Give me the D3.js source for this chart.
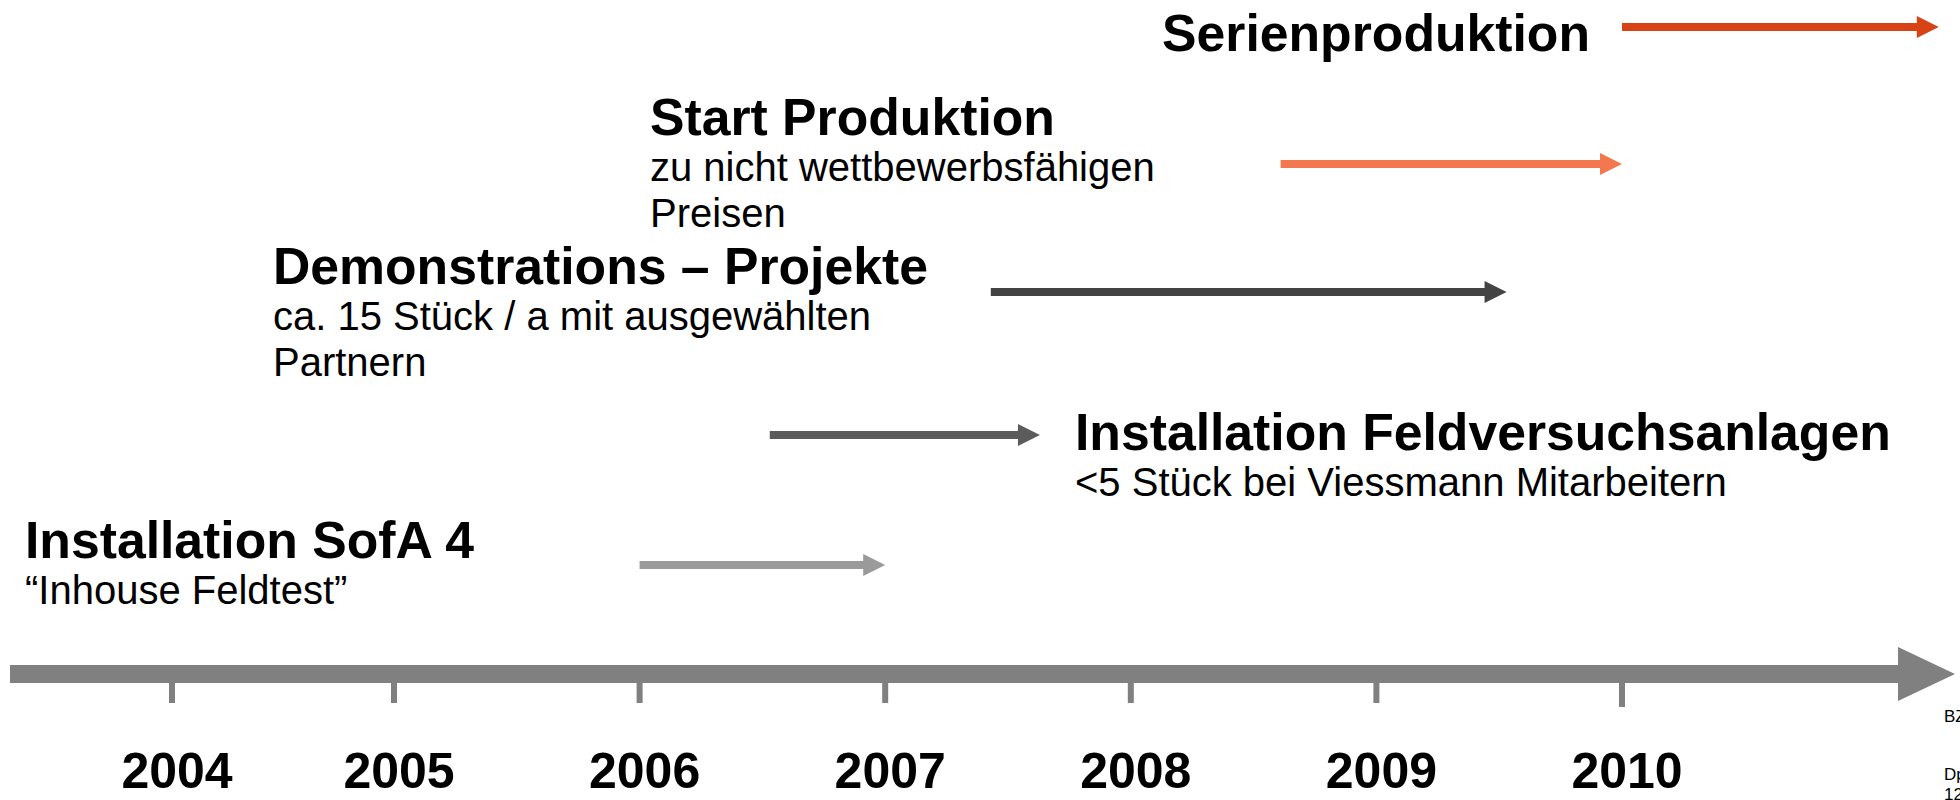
<!DOCTYPE html>
<html>
<head>
<meta charset="utf-8">
<script src="https://cdn.jsdelivr.net/npm/d3@7"></script>
<style>
  body { margin: 0; background: #fff; }
  svg { display: block; }
  text { font-family: "Liberation Sans", Arial, Helvetica, sans-serif; fill: #000; }
</style>
</head>
<body>
<svg id="chart" width="1960" height="800"></svg>
<script>
// ---- data
var years = [2004, 2005, 2006, 2007, 2008, 2009, 2010];
var phaseTitles = [
  "Serienproduktion",
  "Start Produktion",
  "Demonstrations \u2013 Projekte",
  "Installation Feldversuchsanlagen",
  "Installation SofA 4"
];
var phaseNotes = [
  [],
  ["zu nicht wettbewerbsf\u00e4higen", "Preisen"],
  ["ca. 15 St\u00fcck / a mit ausgew\u00e4hlten", "Partnern"],
  ["<5 St\u00fcck bei Viessmann Mitarbeitern"],
  ["\u201cInhouse Feldtest\u201d"]
];
var phaseStart = [2010.0, 2008.61, 2007.43, 2006.53, 2006.0];
var phaseEnd   = [2011.29, 2010.0, 2009.53, 2007.63, 2007.0];
var sideNotes  = ["BZ", "Dp", "12"];

// ---- styles / layout (kept apart from the values)
var phaseColors = ["#d84315", "#f4784f", "#434343", "#5b5b5b", "#9a9a9a"];
var rowLayout = [
  { arrowY: 27,  labelX: 1590, labelY: 51,  anchor: "end" },
  { arrowY: 164, labelX: 650,  labelY: 135, anchor: "start" },
  { arrowY: 292, labelX: 273,  labelY: 284, anchor: "start" },
  { arrowY: 435, labelX: 1075, labelY: 450, anchor: "start" },
  { arrowY: 565, labelX: 25,   labelY: 558, anchor: "start" }
];

var svg = d3.select("#chart");

// timeline scale: the first year sits a bit closer to the next one
var x = d3.scaleLinear()
  .domain([2004, 2005, 2010])
  .range([172, 394, 1622]);

// ---- main time axis
var axisY = 674, axisThick = 18, axisHead = 57, axisHalf = 27;
var axisX0 = 10, axisX1 = 1955;
var axisGrey = "#808080";

svg.append("path")
  .attr("d", [
    "M", axisX0, axisY - axisThick / 2,
    "L", axisX1 - axisHead, axisY - axisThick / 2,
    "L", axisX1 - axisHead, axisY - axisHalf,
    "L", axisX1, axisY,
    "L", axisX1 - axisHead, axisY + axisHalf,
    "L", axisX1 - axisHead, axisY + axisThick / 2,
    "L", axisX0, axisY + axisThick / 2, "Z"
  ].join(" "))
  .attr("fill", axisGrey);

var tickG = svg.append("g");
tickG.selectAll("rect")
  .data(years)
  .join("rect")
  .attr("x", function(d) { return x(d) - 3; })
  .attr("y", axisY + axisThick / 2 - 1)
  .attr("width", 6)
  .attr("height", function(d) { return d === 2010 ? 25 : 21; })
  .attr("fill", axisGrey);

tickG.selectAll("text")
  .data(years)
  .join("text")
  .attr("x", function(d) { return x(d) + 5; })
  .attr("y", 788)
  .attr("text-anchor", "middle")
  .style("font-size", "50px")
  .style("font-weight", "bold")
  .text(function(d) { return d; });

// ---- phase arrows
var lineW = 8, headLen = 22, headHalf = 11;

function arrowPath(x0, x1, y) {
  var xb = x1 - headLen;
  return [
    "M", x0, y - lineW / 2,
    "L", xb, y - lineW / 2,
    "L", xb, y - headHalf,
    "L", x1, y,
    "L", xb, y + headHalf,
    "L", xb, y + lineW / 2,
    "L", x0, y + lineW / 2, "Z"
  ].join(" ");
}

var phases = phaseTitles.map(function(t, i) {
  return { title: t, notes: phaseNotes[i], start: phaseStart[i], end: phaseEnd[i],
           color: phaseColors[i], lay: rowLayout[i] };
});

svg.append("g").selectAll("path")
  .data(phases)
  .join("path")
  .attr("d", function(d) { return arrowPath(x(d.start), x(d.end), d.lay.arrowY); })
  .attr("fill", function(d) { return d.color; });

// ---- phase labels
var labels = svg.append("g").selectAll("g")
  .data(phases)
  .join("g");

labels.append("text")
  .attr("x", function(d) { return d.lay.labelX; })
  .attr("y", function(d) { return d.lay.labelY; })
  .attr("text-anchor", function(d) { return d.lay.anchor; })
  .style("font-size", "51.7px")
  .style("font-weight", "bold")
  .text(function(d) { return d.title; });

labels.each(function(d) {
  d3.select(this).selectAll("text.note")
    .data(d.notes)
    .join("text")
    .attr("class", "note")
    .attr("x", d.lay.labelX)
    .attr("y", function(n, j) { return d.lay.labelY + 46 + j * 46; })
    .style("font-size", "40px")
    .text(function(n) { return n; });
});

// ---- clipped footnotes at right edge (cut off in the original slide too)
svg.append("g").selectAll("text")
  .data(sideNotes)
  .join("text")
  .attr("x", 1944)
  .attr("y", function(d, i) { return [722, 780, 800][i]; })
  .style("font-size", "17px")
  .text(function(d) { return d; });
</script>
</body>
</html>
